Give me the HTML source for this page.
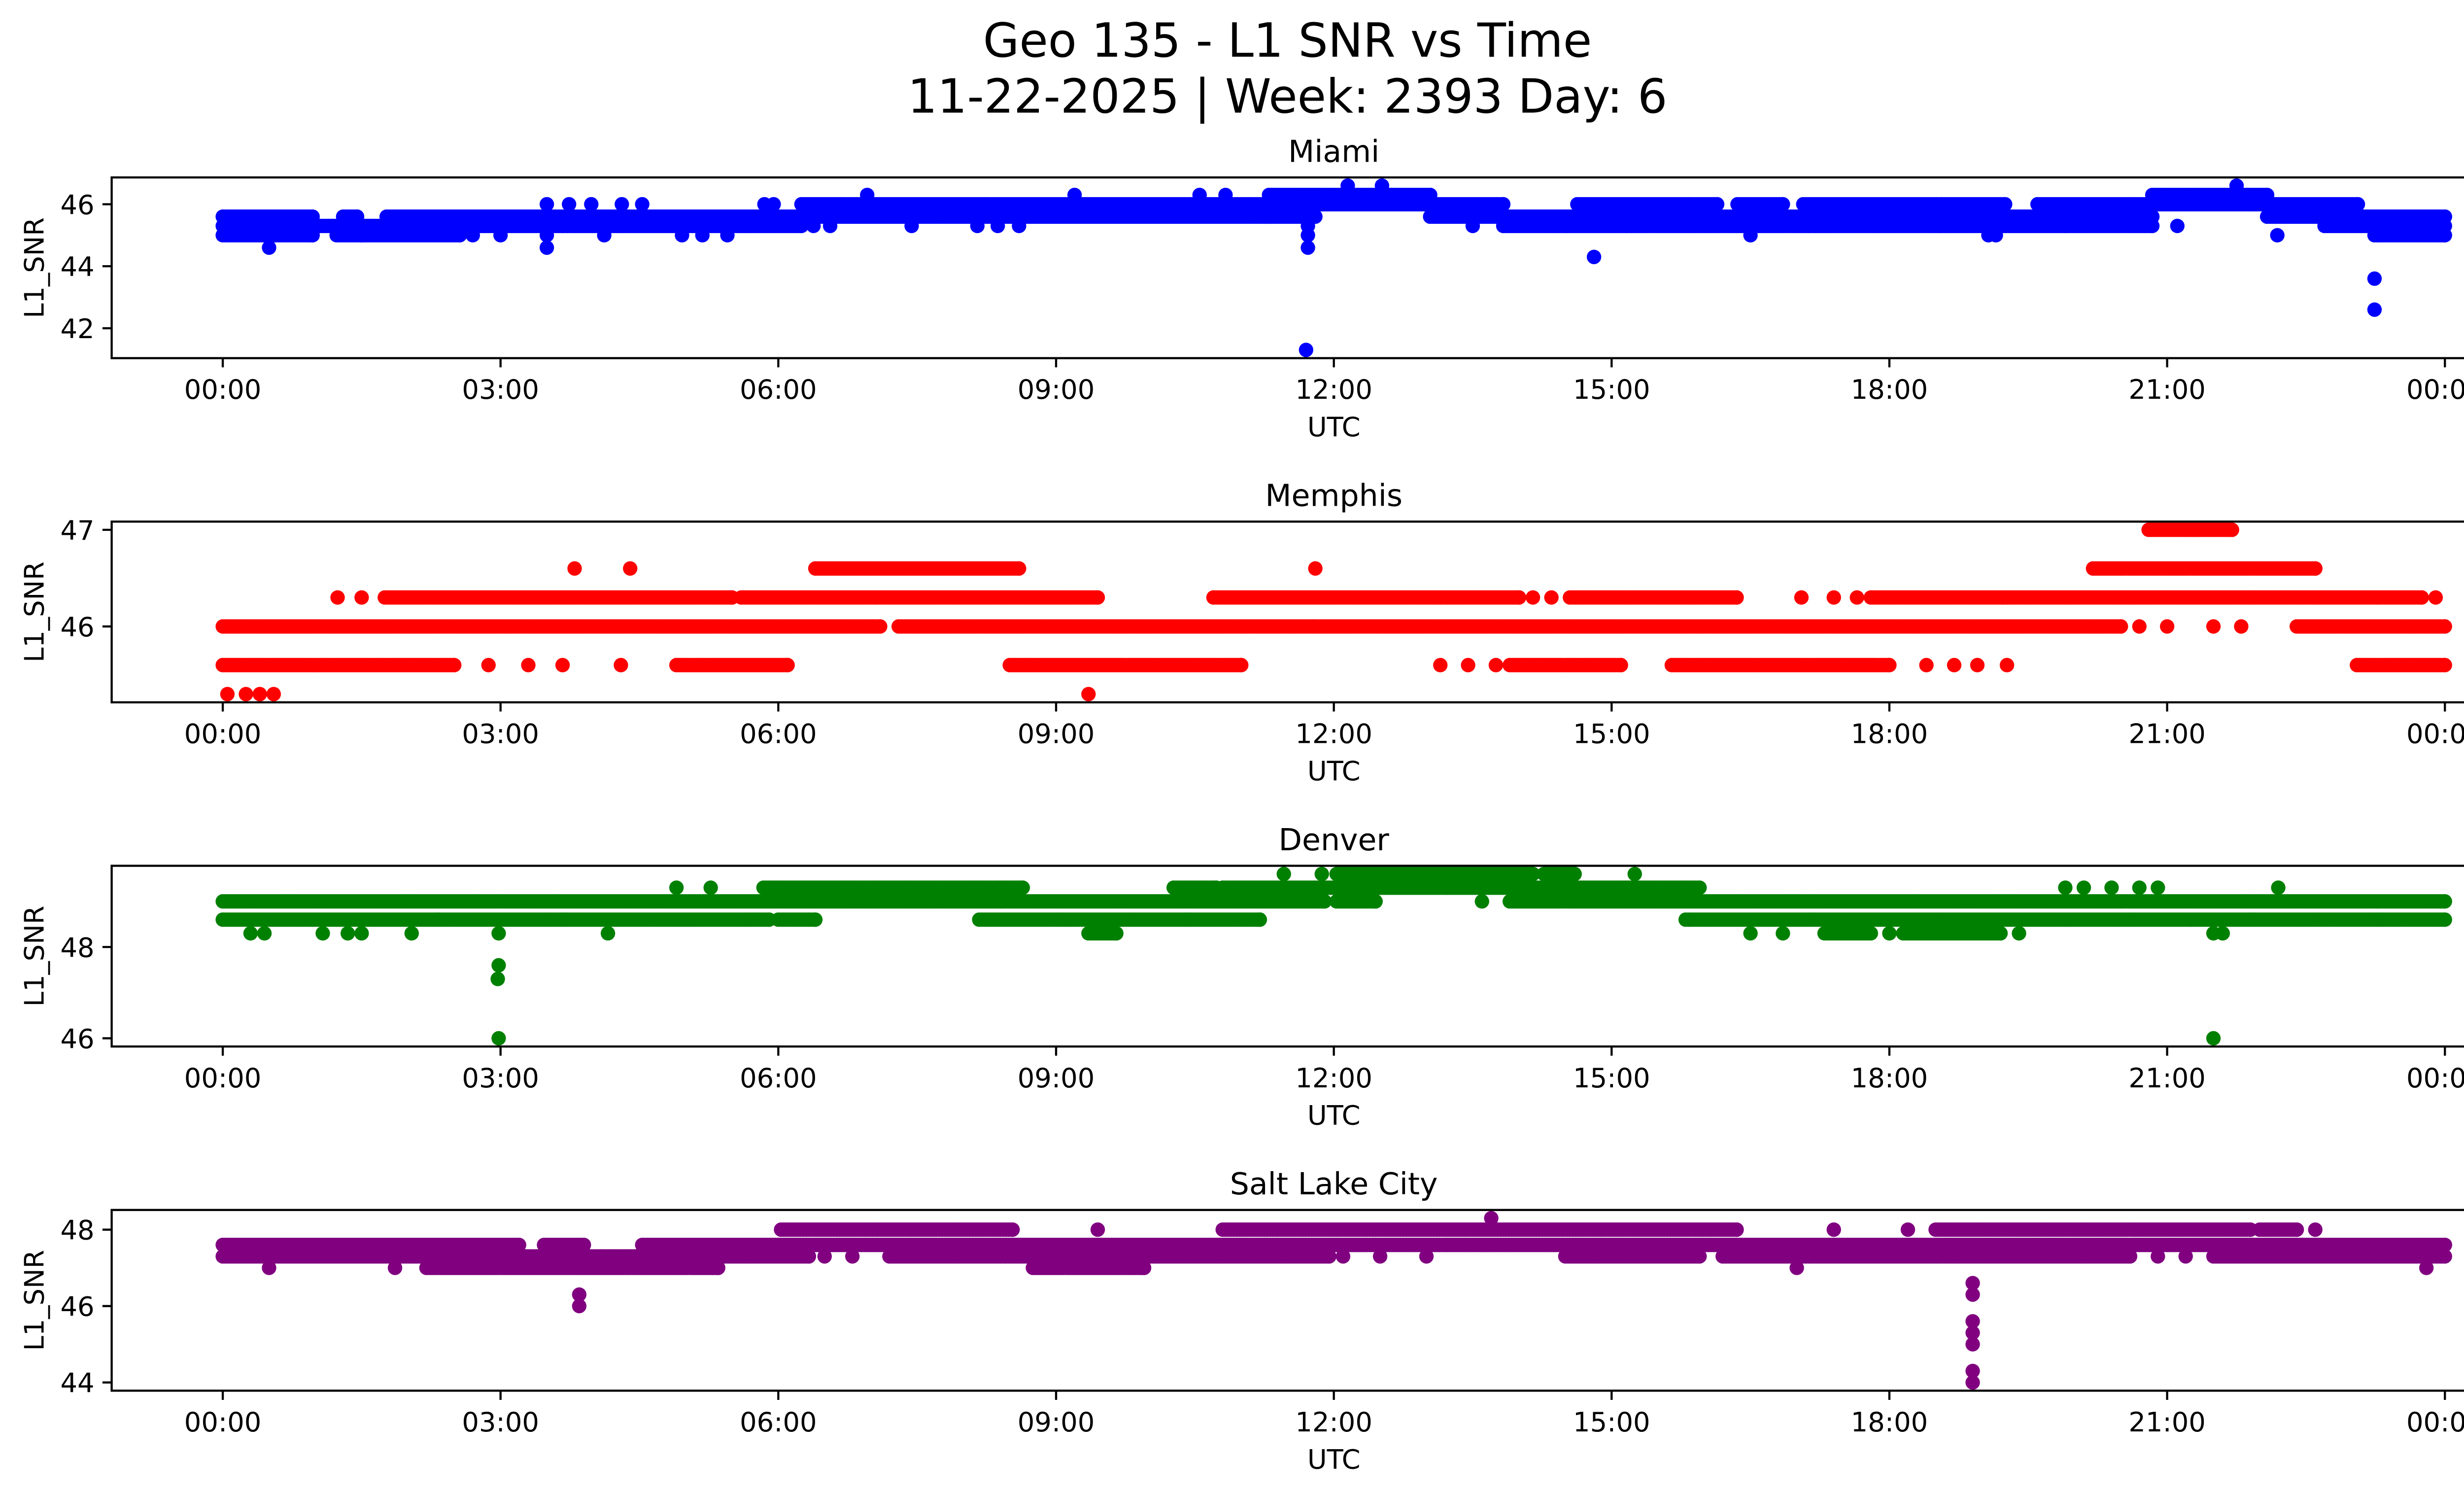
<!DOCTYPE html>
<html><head><meta charset="utf-8"><style>
html,body{margin:0;padding:0;background:#fff;}
svg{display:block;}
text{font-family:"DejaVu Sans","Liberation Sans",sans-serif;fill:#000;}
</style></head><body>
<svg id="fig" width="5225" height="3033" viewBox="0 0 1567.5 910" xmlns="http://www.w3.org/2000/svg">
<rect x="0" y="0" width="1567.5" height="910" fill="#fff"/>
<text x="783.75" y="34.5" font-size="28.5" text-anchor="middle">Geo 135 - L1 SNR vs Time</text>
<text x="783.75" y="68.5" font-size="28.5" text-anchor="middle">11-22-2025 | Week: 2393 Day: 6</text>
<g id="plots"></g>
</svg>
<script>
// ---- data (hours UTC, L1 SNR). Runs: [value, startHour, endHour]; single points: [value, hour]
const xTickHours = [0,3,6,9,12,15,18,21,24];
const xTickLabels = ["00:00","03:00","06:00","09:00","12:00","15:00","18:00","21:00","00:00"];
const stations = ["Miami","Memphis","Denver","Salt Lake City"];
const colors = ["#0000ff","#ff0000","#008000","#800080"];
const miamiYTicks = [42,44,46];
const memphisYTicks = [46,47];
const denverYTicks = [46,48];
const slcYTicks = [44,46,48];

const miamiRuns = [
  [45.0,0,0.97],[45.0,1.23,1.5],[45.0,1.5,2.56],[45.0,23.24,24],
  [45.3,0,6.25],[45.3,13.83,20.84],[45.3,22.7,24],
  [45.6,0,0.97],[45.6,1.3,1.45],[45.6,1.77,11.3],[45.6,11.3,11.8],[45.6,13.04,20.84],[45.6,22.08,24],
  [46.0,6.25,11.3],[46.0,11.3,13.83],[46.0,14.63,16.14],[46.0,16.36,16.85],[46.0,17.07,19.25],[46.0,19.6,22.08],[46.0,22.08,23.06],
  [46.3,11.3,13.04],[46.3,20.84,22.08]
];
const miamiPoints = [
  [45.0,2.7],[45.0,3.0],[45.0,3.5],[45.0,4.12],[45.0,4.96],[45.0,5.18],[45.0,5.45],
  [44.6,0.5],[44.6,3.5],[46.0,3.5],[46.0,3.74],[46.0,3.98],[46.0,4.31],[46.0,4.53],[46.0,5.85],[46.0,5.95],
  [45.3,6.38],[45.3,6.56],[45.3,7.44],[45.3,8.15],[45.3,8.37],[45.3,8.6],
  [46.3,6.96],[46.3,9.2],[46.3,10.55],[46.3,10.83],
  [45.3,11.72],[45.0,11.72],[44.6,11.72],[41.3,11.7],
  [46.6,12.15],[46.6,12.52],[46.6,21.75],[45.3,13.5],[44.3,14.81],
  [45.0,16.5],[45.0,19.07],[45.0,19.15],[45.3,21.11],[45.0,22.19],[43.6,23.24],[42.6,23.24]
];

const memphisRuns = [
  [47.0,20.8,21.7],
  [46.6,6.4,8.6],[46.6,20.2,22.6],
  [46.3,1.75,5.5],[46.3,5.6,9.45],[46.3,10.7,14.0],[46.3,14.55,16.35],[46.3,17.8,23.75],
  [46.0,0,7.1],[46.0,7.3,20.5],[46.0,22.4,24],
  [45.6,0,2.5],[45.6,4.9,6.1],[45.6,8.5,11.0],[45.6,13.9,15.1],[45.6,15.65,18.0],[45.6,23.05,24]
];
const memphisPoints = [
  [46.6,3.8],[46.6,4.4],[46.6,11.8],
  [46.3,1.24],[46.3,1.5],[46.3,14.15],[46.3,14.35],[46.3,17.05],[46.3,17.4],[46.3,17.65],[46.3,23.9],
  [46.0,20.7],[46.0,21.0],[46.0,21.5],[46.0,21.8],
  [45.6,2.87],[45.6,3.3],[45.6,3.67],[45.6,4.3],[45.6,13.15],[45.6,13.45],[45.6,13.75],
  [45.6,18.4],[45.6,18.7],[45.6,18.95],[45.6,19.27],
  [45.3,0.05],[45.3,0.25],[45.3,0.4],[45.3,0.55],[45.3,9.35]
];

const denverRuns = [
  [49.6,12.03,14.15],[49.6,14.27,14.6],
  [49.3,5.84,8.64],[49.3,10.27,10.73],[49.3,10.8,15.95],
  [49.0,0,11.9],[49.0,12.03,12.45],[49.0,13.9,24],
  [48.6,0,5.9],[48.6,6.0,6.4],[48.6,8.17,11.2],[48.6,15.8,24],
  [48.3,9.35,9.65],[48.3,17.3,17.8],[48.3,18.15,19.2]
];
const denverPoints = [
  [49.6,11.46],[49.6,11.87],[49.6,15.25],
  [49.3,4.9],[49.3,5.27],[49.3,19.9],[49.3,20.1],[49.3,20.4],[49.3,20.7],[49.3,20.9],[49.3,22.2],
  [49.0,13.6],
  [48.3,0.3],[48.3,0.45],[48.3,1.08],[48.3,1.35],[48.3,1.5],[48.3,2.04],[48.3,2.98],[48.3,4.16],
  [48.3,16.5],[48.3,16.85],[48.3,18.0],[48.3,19.4],[48.3,21.5],[48.3,21.6],
  [47.6,2.98],[47.3,2.97],[46.0,2.98],[46.0,21.5]
];

const slcRuns = [
  [48.0,6.03,8.53],[48.0,10.8,16.35],[48.0,18.5,21.9],[48.0,22.0,22.4],
  [47.6,0,3.2],[47.6,3.47,3.9],[47.6,4.53,24],
  [47.3,0,6.33],[47.3,7.2,11.95],[47.3,14.5,15.95],[47.3,16.2,20.6],[47.3,21.5,24],
  [47.0,2.2,5.35],[47.0,8.75,9.95]
];
const slcPoints = [
  [48.3,13.7],[48.0,9.45],[48.0,17.4],[48.0,18.2],[48.0,22.6],
  [47.3,6.5],[47.3,6.8],[47.3,12.1],[47.3,12.5],[47.3,13.0],[47.3,20.9],[47.3,21.2],
  [47.0,0.5],[47.0,1.86],[47.0,17.0],[47.0,23.8],
  [46.3,3.85],[46.0,3.85],
  [46.6,18.9],[46.3,18.9],[45.6,18.9],[45.3,18.9],[45.0,18.9],[44.3,18.9],[44.0,18.9]
];

const allRuns = [miamiRuns, memphisRuns, denverRuns, slcRuns];
const allPoints = [miamiPoints, memphisPoints, denverPoints, slcPoints];
const allYTicks = [miamiYTicks, memphisYTicks, denverYTicks, slcYTicks];

// ---- layout
const NS = "http://www.w3.org/2000/svg";
const AX_L = 67.9, AX_R = 1556.1, AX_H = 110, TOP0 = 108, GAP = 209.5;
const X_MIN = -1.2, X_MAX = 25.2;
const R = 4.4, STEP = 0.03;
function xScale(h){ return AX_L + (h - X_MIN) / (X_MAX - X_MIN) * (AX_R - AX_L); }
function mk(tag, attrs, parent){
  const e = document.createElementNS(NS, tag);
  for (const k in attrs) e.setAttribute(k, attrs[k]);
  parent.appendChild(e);
  return e;
}
const root = document.getElementById('plots');

stations.forEach(function(name, i){
  const top = TOP0 + i * GAP, bot = top + AX_H;
  const runs = allRuns[i], pts = allPoints[i];
  let lo = Infinity, hi = -Infinity;
  runs.forEach(function(r){ lo = Math.min(lo, r[0]); hi = Math.max(hi, r[0]); });
  pts.forEach(function(p){ lo = Math.min(lo, p[0]); hi = Math.max(hi, p[0]); });
  const pad = (hi - lo) * 0.05, yMin = lo - pad, yMax = hi + pad;
  function yScale(v){ return bot - (v - yMin) / (yMax - yMin) * AX_H; }

  const g = mk('g', {}, root);
  
  

  const title = mk('text', {x: (AX_L + AX_R) / 2, y: top - 9.5, 'font-size': 18.5, 'text-anchor': 'middle'}, g);
  title.textContent = name;
  
  

  // points
  const dots = mk('g', {fill: colors[i]}, g);
  
  
  runs.forEach(function(r){
    const cy = yScale(r[0]);
    for (let t = r[1]; t <= r[2] + 1e-9; t += STEP) {
      const c = mk('circle', {cx: xScale(t).toFixed(2), cy: cy.toFixed(2), r: R}, dots);
    }
    mk('circle', {cx: xScale(r[2]).toFixed(2), cy: cy.toFixed(2), r: R}, dots);
  });
  pts.forEach(function(p){
    const c = mk('circle', {cx: xScale(p[1]).toFixed(2), cy: yScale(p[0]).toFixed(2), r: R}, dots);
    
    
  });

  // frame
  const frame = mk('rect', {x: AX_L, y: top, width: AX_R - AX_L, height: AX_H, fill: 'none', stroke: '#000', 'stroke-width': 1.3}, g);
  
  

  // x ticks
  xTickHours.forEach(function(h, k){
    const x = xScale(h);
    mk('line', {x1: x, x2: x, y1: bot, y2: bot + 5.6, stroke: '#000', 'stroke-width': 1.3}, g);
    const t = mk('text', {x: x, y: bot + 24.8, 'font-size': 16.3, 'text-anchor': 'middle'}, g);
    t.textContent = xTickLabels[k];
    
    
  });
  const xl = mk('text', {x: (AX_L + AX_R) / 2, y: bot + 47.5, 'font-size': 16.3, 'text-anchor': 'middle'}, g);
  xl.textContent = 'UTC';
  
  

  // y ticks
  allYTicks[i].forEach(function(v){
    const y = yScale(v);
    mk('line', {x1: AX_L - 5.6, x2: AX_L, y1: y, y2: y, stroke: '#000', 'stroke-width': 1.3}, g);
    const t = mk('text', {x: AX_L - 10.5, y: y + 6, 'font-size': 16.3, 'text-anchor': 'end'}, g);
    t.textContent = String(v);
    
    
  });
  const yc = top + AX_H / 2;
  const yl = mk('text', {x: 0, y: 0, 'font-size': 16.3, 'text-anchor': 'middle', transform: 'translate(26.5,' + yc + ') rotate(-90)'}, g);
  yl.textContent = 'L1_SNR';
  
  
});
</script>
</body></html>
